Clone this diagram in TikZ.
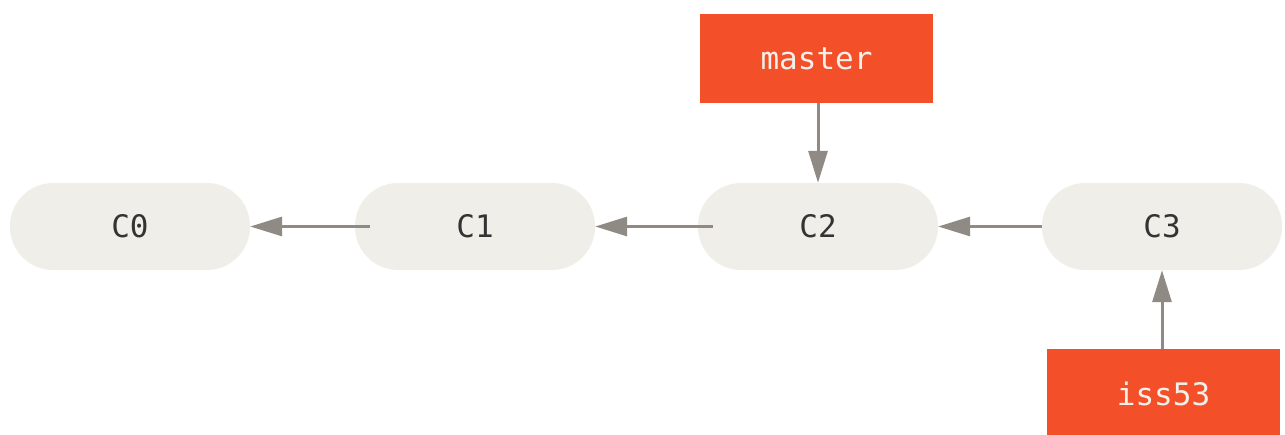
\documentclass[tikz,border=0pt]{standalone}
\usepackage{fontspec}
\setmonofont{DejaVu Sans Mono}
\usetikzlibrary{arrows.meta}
\definecolor{pillfill}{RGB}{239,238,232}
\definecolor{branchred}{RGB}{243,79,41}
\definecolor{arrowgray}{RGB}{143,138,131}
\definecolor{textdark}{RGB}{51,51,51}
\definecolor{textlight}{RGB}{242,240,234}
\begin{document}
\begin{tikzpicture}[x=1pt,y=-1pt,
  commit/.style={fill=pillfill, rounded corners=43pt, minimum width=240pt, minimum height=87pt, inner sep=0pt, text=textdark, font=\ttfamily\fontsize{31}{31}\selectfont},
  branch/.style={fill=branchred, minimum width=233pt, minimum height=89pt, inner sep=0pt, text=textlight, font=\ttfamily\fontsize{31}{31}\selectfont},
  link/.style={draw=arrowgray, line width=3pt, -{Triangle[length=32pt,width=19pt]}}]
\useasboundingbox (0,0) rectangle (1285,434);
\node[commit] (c0) at (130,226.5) {C0};
\node[commit] (c1) at (475,226.5) {C1};
\node[commit] (c2) at (818,226.5) {C2};
\node[commit] (c3) at (1162,226.5) {C3};
\node[branch] (master) at (816.5,58.5) {master};
\node[branch] (iss) at (1163.5,393.5) {iss53};
\draw[link] ([xshift=15pt]c1.west) -- (c0.east);
\draw[link] ([xshift=15pt]c2.west) -- (c1.east);
\draw[link] (c3.west) -- (c2.east);
\draw[link] (master.south -| c2.north) -- (c2.north);
\draw[link] (iss.north -| c3.south) -- (c3.south);
\end{tikzpicture}
\end{document}
